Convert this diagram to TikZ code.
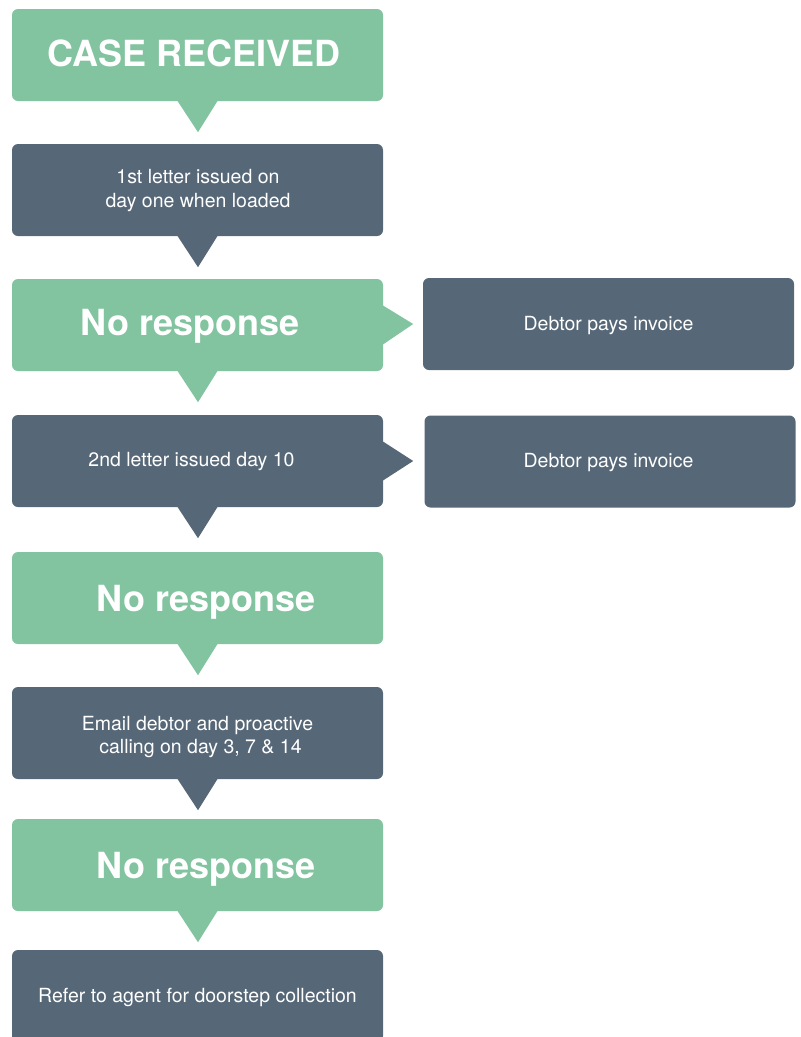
\documentclass[tikz,border=0pt]{standalone}
\usepackage{fontspec}
\setmainfont{TeX Gyre Heros}
\definecolor{mint}{HTML}{82C3A0}
\definecolor{slate}{HTML}{566777}
\begin{document}
\begin{tikzpicture}[x=1pt,y=-1pt,
  boxbase/.style={rectangle,rounded corners=6pt,minimum width=371pt,minimum height=92pt,inner sep=0pt,draw=none},
  gbox/.style={boxbase,fill=mint},
  dbox/.style={boxbase,fill=slate},
  htext/.style={text=white,font=\fontsize{36}{40}\selectfont\bfseries,inner sep=0pt},
  stext/.style={text=white,font=\fontsize{19.5}{23.5}\selectfont,align=center,inner sep=0pt}]
\useasboundingbox (0,0) rectangle (801,1037);
% main column boxes
\node[gbox] (b1) at (197.5,55) {};
\node[dbox] (b2) at (197.5,190) {};
\node[gbox] (b3) at (197.5,325) {};
\node[dbox] (b4) at (197.5,461) {};
\node[gbox] (b5) at (197.5,598) {};
\node[dbox] (b6) at (197.5,733) {};
\node[gbox] (b7) at (197.5,865) {};
\node[dbox] (b8) at (197.5,996) {};
% right boxes
\node[dbox] (r1) at (608.5,324) {};
\node[dbox] (r2) at (610,461.5) {};
% downward pointers
\foreach \b/\c in {b1/mint,b2/slate,b3/mint,b4/slate,b5/mint,b6/slate,b7/mint}{
  \fill[\c] ([xshift=-20.5pt,yshift=1pt]\b.south) -- ([xshift=20.5pt,yshift=1pt]\b.south)
     -- ([xshift=0.5pt,yshift=-31pt]\b.south) -- cycle;
}
% rightward pointers
\fill[mint] ([xshift=-1pt,yshift=20pt]b3.east) -- ([xshift=-1pt,yshift=-20pt]b3.east) -- ([xshift=30pt,yshift=1pt]b3.east) -- cycle;
\fill[slate] ([xshift=-1pt,yshift=20pt]b4.east) -- ([xshift=-1pt,yshift=-20pt]b4.east) -- ([xshift=30pt]b4.east) -- cycle;
% texts
\node[htext] (t1) at ([xshift=-3.5pt,yshift=2pt]b1.center) {CASE RECEIVED};
\node[stext] (t2) at ([xshift=0.5pt,yshift=-0.5pt]b2.center) {1st letter issued on\\day one when loaded};
\node[htext] (t3) at ([xshift=-7.5pt,yshift=-1pt]b3.center) {No response};
\node[stext] (t4) at ([xshift=-6pt,yshift=-1pt]b4.center) {2nd letter issued day 10};
\node[htext] (t5) at ([xshift=8.5pt,yshift=-4pt]b5.center) {No response};
\node[stext] (t6) at ([xshift=0pt,yshift=-4pt]b6.center) {Email debtor and proactive\\ \hspace*{6pt}calling on day 3, 7 \& 14};
\node[htext] (t7) at ([xshift=8.5pt,yshift=-4pt]b7.center) {No response};
\node[stext] (t8) at ([xshift=0pt,yshift=-1pt]b8.center) {Refer to agent for doorstep collection};
\node[stext] (tr1) at ([xshift=0pt,yshift=-2pt]r1.center) {Debtor pays invoice};
\node[stext] (tr2) at ([xshift=-1.5pt,yshift=-1pt]r2.center) {Debtor pays invoice};
\end{tikzpicture}
\end{document}
